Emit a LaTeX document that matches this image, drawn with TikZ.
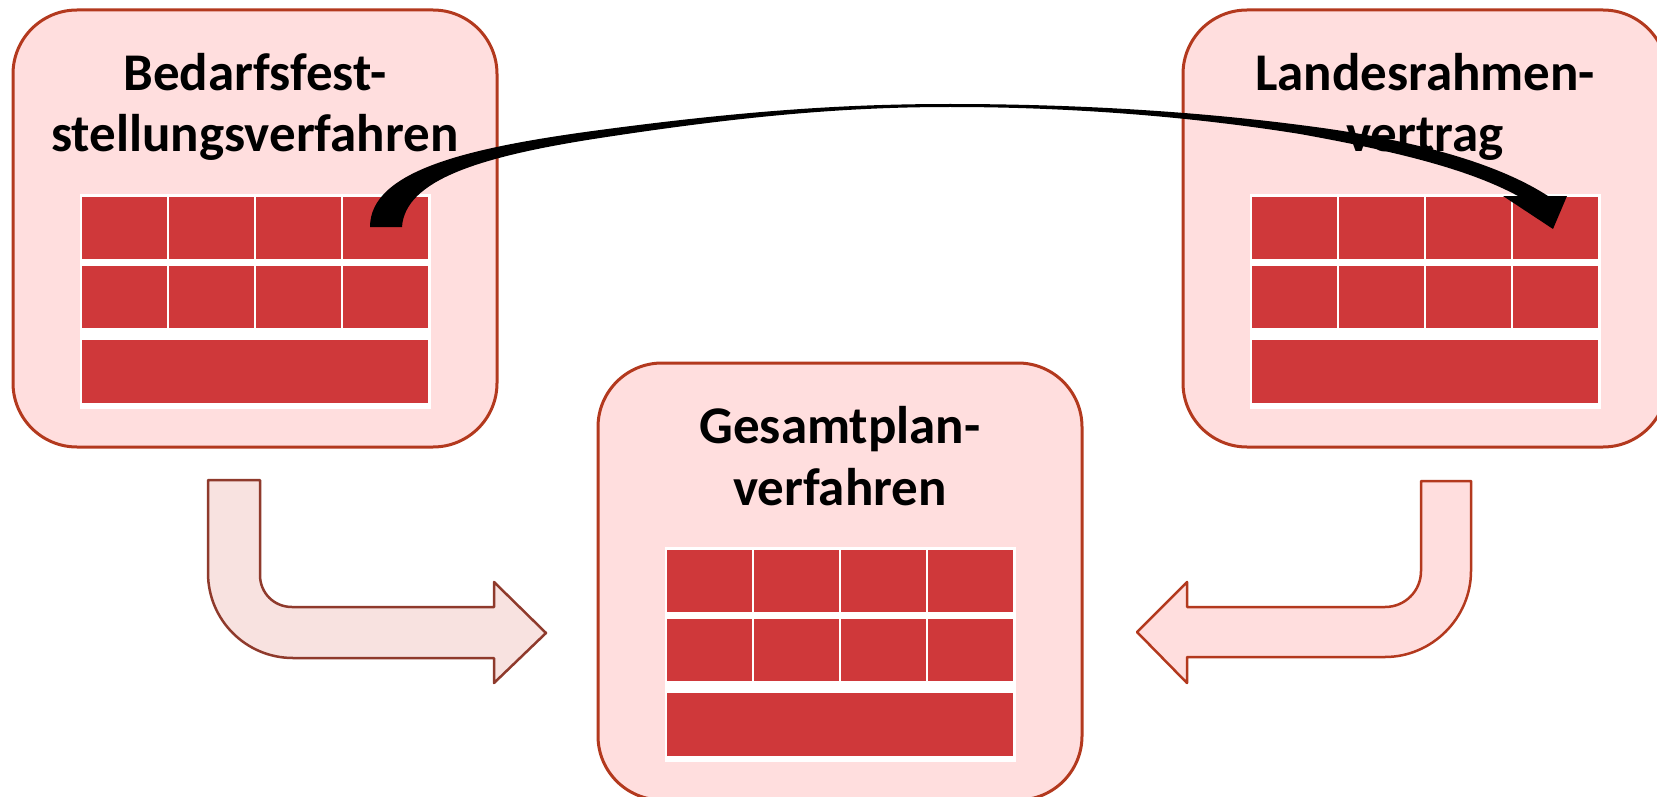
\documentclass[tikz,border=0pt]{standalone}
\usepackage{fontspec}
\setmainfont{Carlito}

\definecolor{rosa}{HTML}{FFDEDE}
\definecolor{rahmen}{HTML}{B3391E}
\definecolor{ziegelrot}{HTML}{CF383A}
\definecolor{rosahell}{HTML}{F8E2E0}
\definecolor{rahmendunkel}{HTML}{8F3A2C}

\tikzset{
  kasten/.style={draw=rahmen, line width=3pt, fill=rosa, rounded corners=64pt,
    minimum width=484pt, minimum height=437pt, inner sep=0pt, outer sep=0pt},
  titel/.style={align=center, anchor=base, inner sep=0pt,
    font=\bfseries\fontsize{53}{62}\selectfont},
  ziegel/.style={fill=ziegelrot},
  pfeilblock/.style={line width=2.5pt, line join=round}
}

\begin{document}
\begin{tikzpicture}[x=1pt,y=-1pt]
\clip (0,0) rectangle (1657,797);

\node[kasten] (bedarf) at (255,228.5) {};
\node[kasten] (landes) at (1425,228.5) {};
\node[kasten] (gesamt) at (840,581.5) {};

% Tabellen in den Kaesten
\foreach \k in {bedarf,landes,gesamt}{
  \begin{scope}[shift={(\k.north west)}]
    \fill[white] (67,184) rectangle (418,399);
    \foreach \i in {0,...,3}{
      \fill[ziegel] (69+87*\i,187) rectangle ++(85,62);
      \fill[ziegel] (69+87*\i,256) rectangle ++(85,62);
    }
    \fill[ziegel] (69,330) rectangle (415,393);
  \end{scope}
}

\node[titel] (bedarf-t) at (255,152) {Bedarfsfest-\\stellungsverfahren};
\node[titel] (landes-t) at (1425,152) {Landesrahmen-\\vertrag};
\node[titel] (gesamt-t) at (840,505) {Gesamtplan-\\verfahren};

% Knickpfeile
\filldraw[pfeilblock, draw=rahmendunkel, fill=rosahell]
  (208,480) -- (260,480) -- (260,575) .. controls (260,593) and (274,607) .. (292,607)
  -- (494,607) -- (494,582) -- (546,633) -- (494,683) -- (494,658) -- (293,658)
  .. controls (246,658) and (208,620) .. (208,573) -- cycle;
\filldraw[pfeilblock, draw=rahmen, fill=rosa]
  (1421,481) -- (1471,481) -- (1471,571) .. controls (1471,618) and (1432,657) .. (1385,657)
  -- (1187,657) -- (1187,683) -- (1137,632) -- (1187,582) -- (1187,607) -- (1385,607)
  .. controls (1405,607) and (1421,591) .. (1421,571) -- cycle;

% gebogener Pfeil oben
\fill (370,227) .. controls (370,170) and (470,147.3) .. (600,130)
  .. controls (750,110) and (850,104) .. (950,104)
  .. controls (1080,104) and (1200,112) .. (1300,125)
  .. controls (1420,140) and (1500,165) .. (1548,196)
  -- (1518,196)
  .. controls (1470,170) and (1400,152) .. (1300,134)
  .. controls (1200,118) and (1080,107) .. (950,107)
  .. controls (850,107) and (750,115) .. (600,138)
  .. controls (480,156.4) and (405,180) .. (402,227) -- cycle;
\fill (1503,196) -- (1567,196) -- (1553,229) -- cycle;

\end{tikzpicture}
\end{document}
